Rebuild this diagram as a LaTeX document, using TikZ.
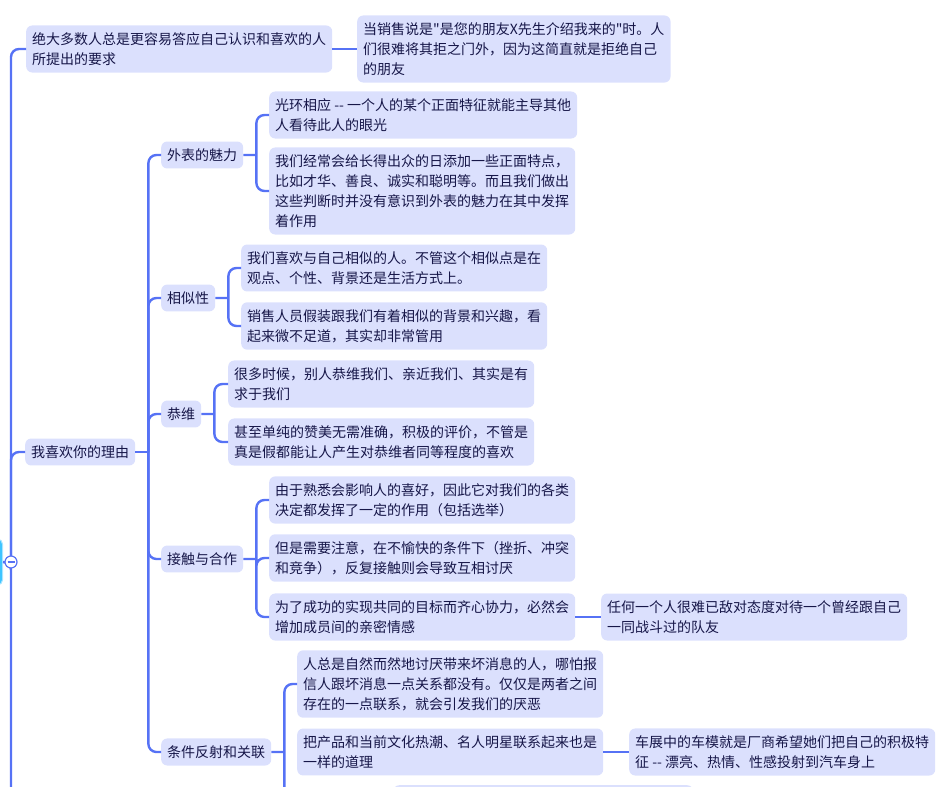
\documentclass[tikz,border=0pt]{standalone}
\usepackage{fontspec}
\setmainfont{Noto Sans CJK SC}[Ligatures=TeXOff]
\usetikzlibrary{positioning}
\definecolor{boxfill}{RGB}{219,224,253}
\definecolor{txt}{RGB}{22,22,72}
\definecolor{link}{RGB}{86,114,245}
\definecolor{rootc}{RGB}{62,196,255}

\begin{document}
\begin{tikzpicture}[x=1pt,y=-1pt,
    bx/.style={fill=boxfill,rounded corners=6pt,inner xsep=6pt,inner ysep=7pt,%
      align=left,anchor=west,text=txt,font=\fontsize{14}{20}\selectfont},%
    ln/.style={draw=link,line width=2.4pt,rounded corners=8pt},%
    jn/.style={right=13pt of #1}]
    \useasboundingbox (0,0) rectangle (945,787);
    % root and first level
    \node[fill=rootc,draw=rootc!45,line width=1pt,rounded corners=5pt,minimum width=30pt,minimum height=46pt,anchor=east] (R) at (3,562) {};
    \coordinate (j0) at (11,562);
    \coordinate (end0) at (11,800);
    \node[bx] (A1) at (26,49) {绝大多数人总是更容易答应自己认识和喜欢的人\\所提出的要求};
    \node[bx] (A1c) at (357,49) {当销售说是"是您的朋友X先生介绍我来的"时。人\\们很难将其拒之门外，因为这简直就是拒绝自己\\的朋友};
    \node[bx] (B) at (25,452) {我喜欢你的理由};
    % second level
    \node[bx] (C1) at (161,155) {外表的魅力};
    \node[bx] (C1a) at (269,115) {光环相应 -- 一个人的某个正面特征就能主导其他\\人看待此人的眼光};
    \node[bx] (C1b) at (269,191) {我们经常会给长得出众的日添加一些正面特点，\\比如才华、善良、诚实和聪明等。而且我们做出\\这些判断时并没有意识到外表的魅力在其中发挥\\着作用};
    \node[bx] (C2) at (161,298) {相似性};
    \node[bx] (C2a) at (241,268) {我们喜欢与自己相似的人。不管这个相似点是在\\观点、个性、背景还是生活方式上。};
    \node[bx] (C2b) at (241,326) {销售人员假装跟我们有着相似的背景和兴趣，看\\起来微不足道，其实却非常管用};
    \node[bx] (C3) at (161,414) {恭维};
    \node[bx] (C3a) at (228,384) {很多时候，别人恭维我们、亲近我们、其实是有\\求于我们};
    \node[bx] (C3b) at (228,442) {甚至单纯的赞美无需准确，积极的评价，不管是\\真是假都能让人产生对恭维者同等程度的喜欢};
    \node[bx] (C4) at (161,559) {接触与合作};
    \node[bx] (C4a) at (269,500) {由于熟悉会影响人的喜好，因此它对我们的各类\\决定都发挥了一定的作用（包括选举）};
    \node[bx] (C4b) at (269,558) {但是需要注意，在不愉快的条件下（挫折、冲突\\和竞争），反复接触则会导致互相讨厌};
    \node[bx] (C4c) at (269,617) {为了成功的实现共同的目标而齐心协力，必然会\\增加成员间的亲密情感};
    \node[bx] (C4c1) at (601,617) {任何一个人很难已敌对态度对待一个曾经跟自己\\一同战斗过的队友};
    \node[bx] (C5) at (161,752) {条件反射和关联};
    \node[bx] (C5a) at (297,684) {人总是自然而然地讨厌带来坏消息的人，哪怕报\\信人跟坏消息一点关系都没有。仅仅是两者之间\\存在的一点联系，就会引发我们的厌恶};
    \node[bx] (C5b) at (297,752) {把产品和当前文化热潮、名人明星联系起来也是\\一样的道理};
    \node[bx] (C5b1) at (629,752) {车展中的车模就是厂商希望她们把自己的积极特\\征 -- 漂亮、热情、性感投射到汽车身上};
    \node[bx,anchor=north west,minimum width=300pt,minimum height=40pt] (C5c) at (393,785) {};
    % junctions
    \coordinate[jn=B] (jB);
    \coordinate[jn=C1] (jC1);
    \coordinate[jn=C2] (jC2);
    \coordinate[jn=C3] (jC3);
    \coordinate[jn=C4] (jC4);
    \coordinate[jn=C5] (jC5);
    \coordinate (endC5) at (jC5 |- end0);
    % links
    \draw[ln] (R.east) -- (j0) -- (end0);
    \draw[ln] (j0) |- (A1.west);
    \draw[ln] (j0) |- (B.west);
    \draw[ln] (A1.east) -- (A1c.west);
    \draw[ln] (B.east) -- (jB);
    \foreach \c in {C1,C2,C3,C4,C5}
      \draw[ln] (jB) |- (\c.west);
    \draw[ln] (C1.east) -- (jC1) (jC1) |- (C1a.west) (jC1) |- (C1b.west);
    \draw[ln] (C2.east) -- (jC2) (jC2) |- (C2a.west) (jC2) |- (C2b.west);
    \draw[ln] (C3.east) -- (jC3) (jC3) |- (C3a.west) (jC3) |- (C3b.west);
    \draw[ln] (C4.east) -- (jC4) (jC4) |- (C4a.west) (jC4) |- (C4b.west) (jC4) |- (C4c.west);
    \draw[ln] (C4c.east) -- (C4c1.west);
    \draw[ln] (C5.east) -- (jC5) (jC5) |- (C5a.west) (jC5) -- (endC5);
    \draw[ln] (C5b.east) -- (C5b1.west);
    % collapse button
    \node[circle,draw=link,fill=white,line width=1.2pt,minimum size=12pt,inner sep=0pt] (tog) at (j0) {};
    \draw[link,line width=1.2pt] ([xshift=-3.5pt]tog.center) -- ([xshift=3.5pt]tog.center);
\end{tikzpicture}
\end{document}
